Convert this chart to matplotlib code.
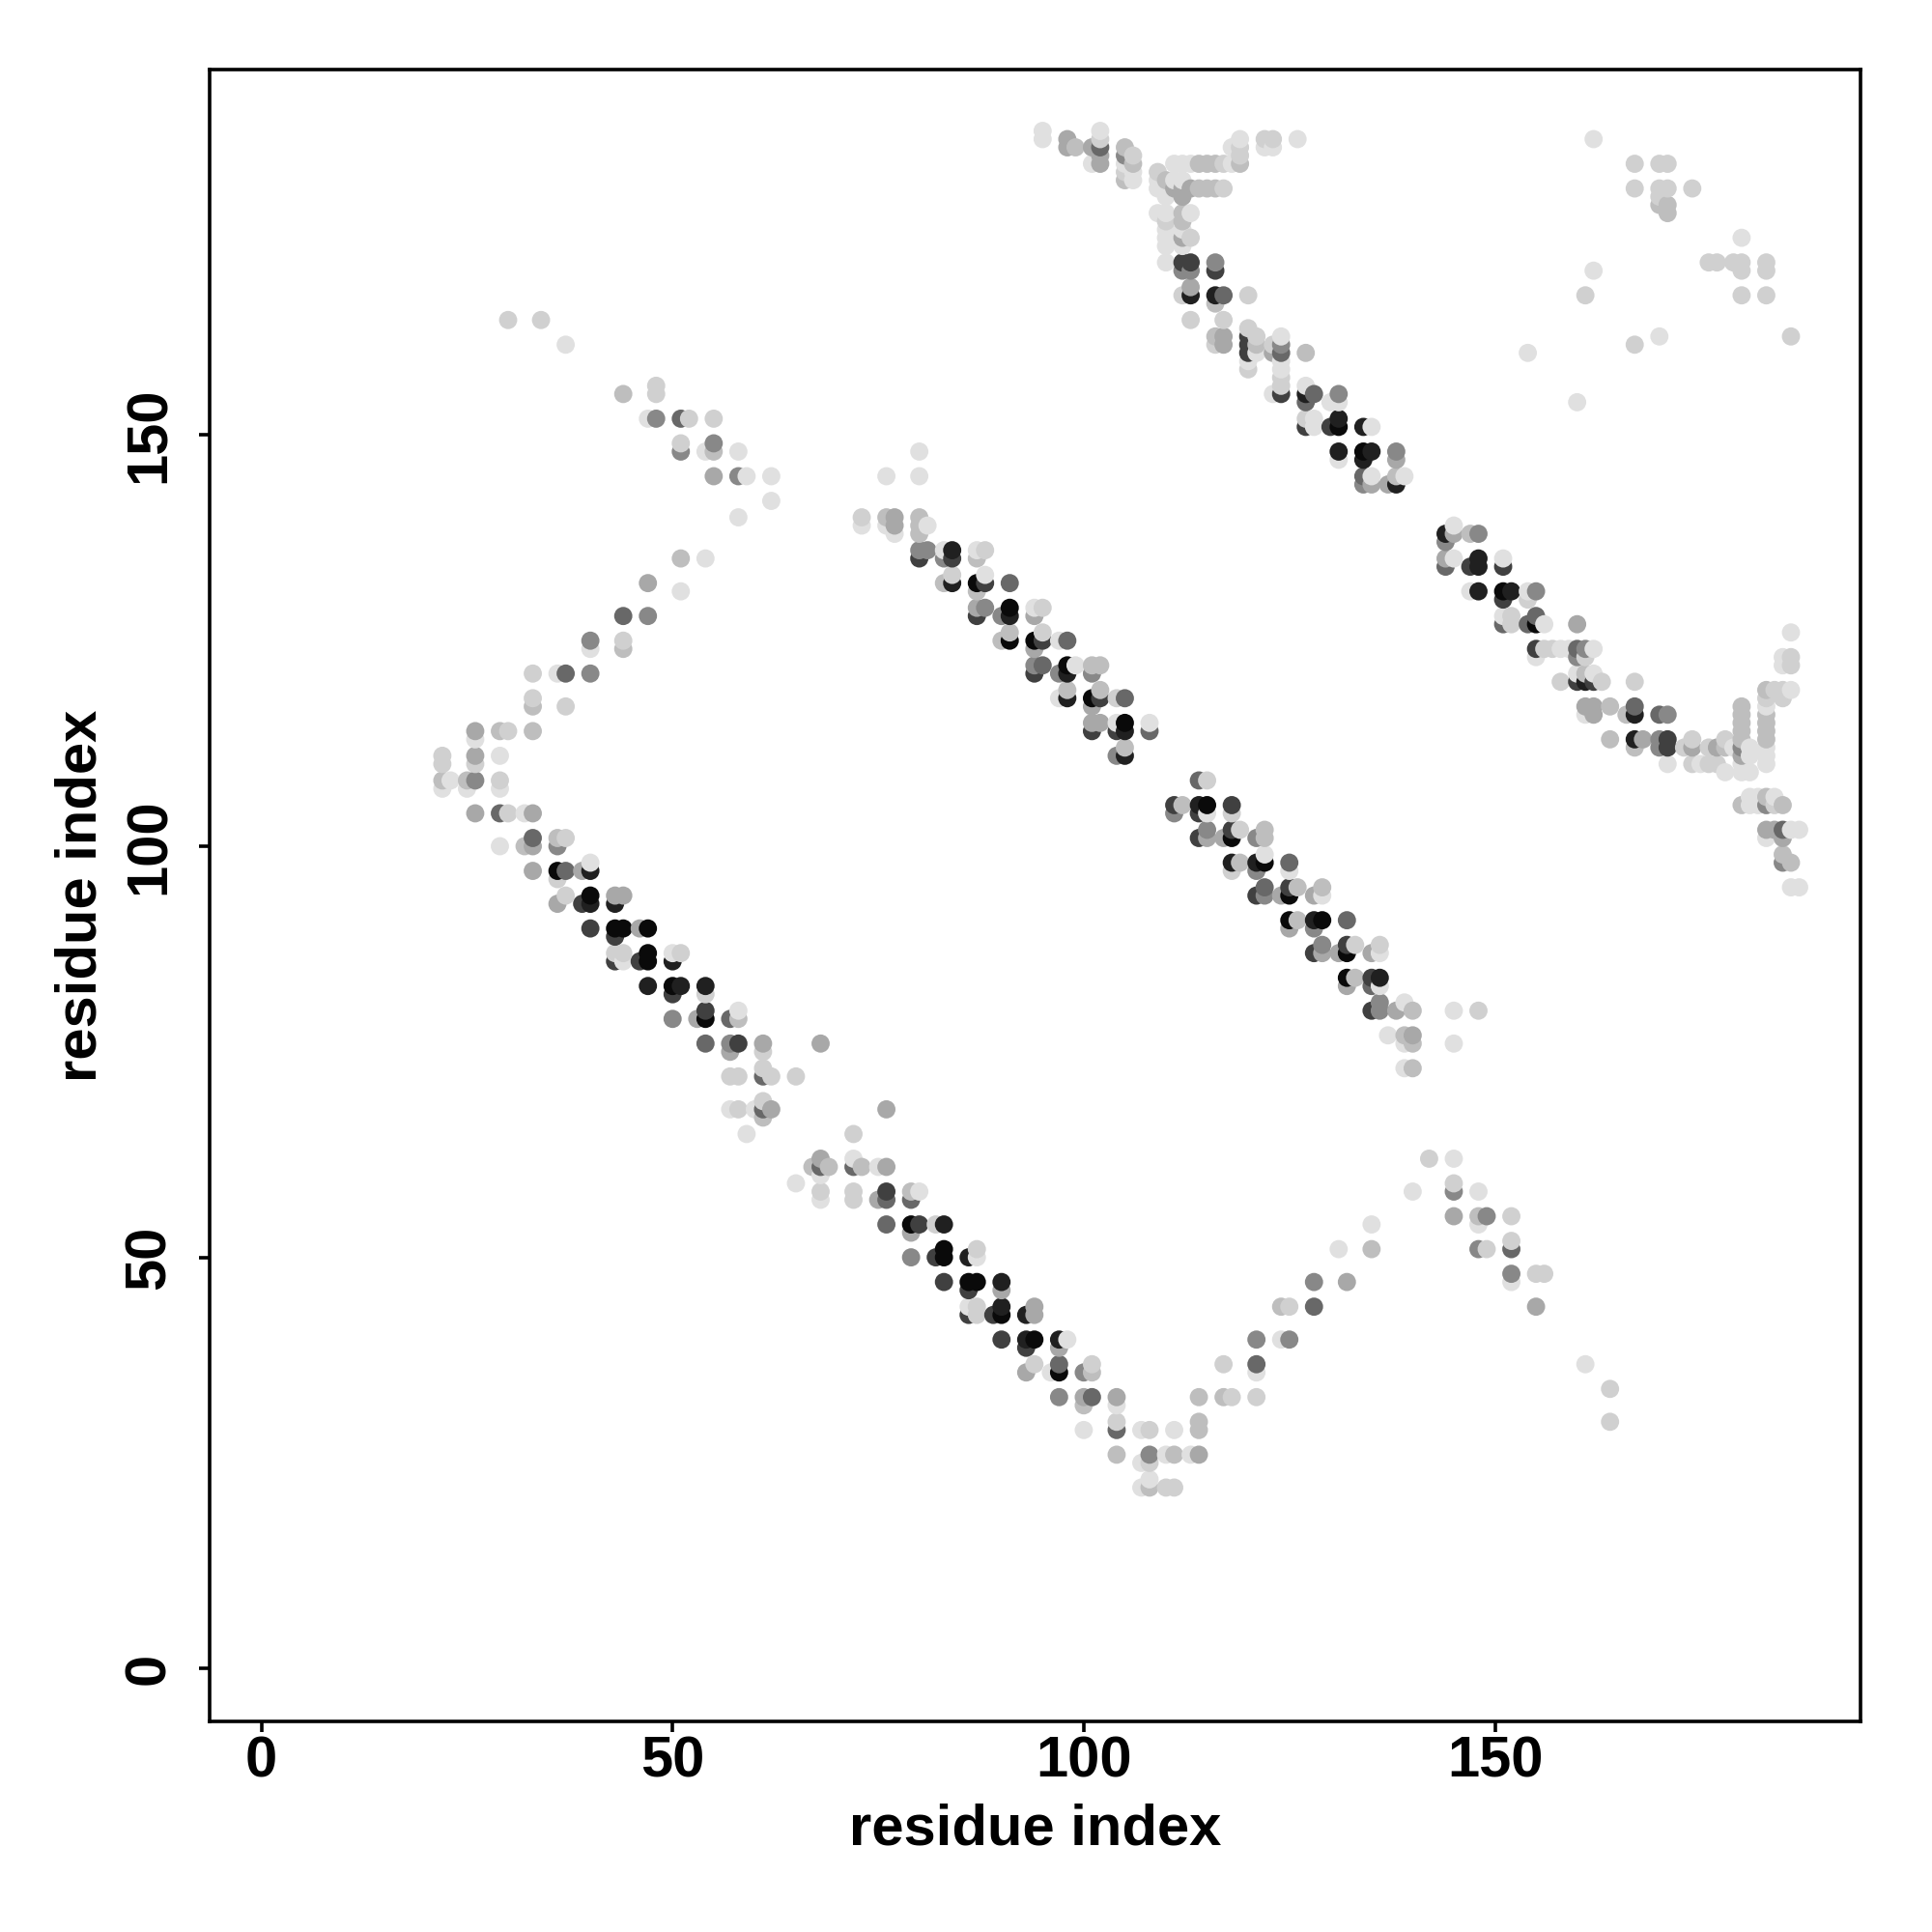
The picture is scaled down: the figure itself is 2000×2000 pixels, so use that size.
"""Residue contact map, grey dots darker for stronger contacts. Writes out.png."""
import matplotlib

matplotlib.use("Agg")
import matplotlib.pyplot as plt
import numpy as np

# grey levels of the dots, light to dark
A, B, C, D, E, F, G, H, I = 224, 208, 190, 168, 136, 104, 64, 32, 10

# (x residue, y residue, grey)
left_top = [
    (30,164,B),(34,164,B),(37,161,A),(44,155,C),(48,156,B),(48,155,B),
    (47,152,A),(48,152,E),(51,152,F),(52,152,B),(55,152,B),
    (51,149,B),(51,148,E),(54,148,A),(55,149,E),(55,148,C),(58,148,A),
    (55,145,D),(58,145,E),(59,145,A),(62,145,A),(62,142,A),(58,140,A),
    (51,135,C),(54,135,A),(47,132,D),(51,131,A),(44,128,F),(47,128,E),
    (40,125,E),(40,124,A),(44,125,B),(44,124,C),
    (33,121,B),(36,121,A),(37,121,F),(40,121,E),(33,118,B),(33,117,C),(37,117,B),
    (26,114,D),(26,113,A),(29,114,C),(30,114,B),(33,114,C),
    (22,111,B),(22,110,B),(26,111,D),(26,110,B),(29,111,A),
    (22,108,C),(23,108,A),(25,108,C),(25,107,A),(22,107,A),(26,108,E),(29,108,B),(29,107,A),
    (26,104,D),(29,104,F),(30,104,B),(32,104,A),(33,104,D),
    (29,100,A),(32,100,C),(33,101,F),(33,100,D),(36,101,C),(37,101,B),(36,100,E),
]
left_band = [
    (33,97,D),(36,97,I),(37,97,F),(39,97,D),(40,97,H),(40,98,A),(36,96,B),
    (37,94,B),(40,94,I),(43,94,D),(44,94,D),(36,93,D),(39,93,G),(40,93,H),(43,93,H),
    (40,90,G),(43,90,I),(44,90,I),(46,90,D),(47,90,I),(43,89,G),
    (43,87,B),(44,87,B),(47,87,I),(50,87,A),(51,87,B),
    (43,86,G),(44,86,A),(46,86,G),(47,86,I),(50,86,H),
    (47,83,H),(50,83,I),(51,83,H),(54,83,H),(50,82,G),(54,82,B),
    (54,80,G),(58,80,A),(50,79,E),(53,79,D),(54,79,I),(57,79,F),(58,79,C),
    (54,76,F),(57,76,E),(58,76,G),(61,76,D),(68,76,D),(57,75,D),(61,75,B),
    (57,72,B),(58,72,B),(61,73,B),(61,72,F),(62,72,B),(65,72,B),
    (57,68,A),(58,68,B),(60,68,A),(61,69,B),(61,68,F),(62,68,D),(61,67,C),(76,68,D),
    (59,65,A),(72,65,B),
]
lower_band = [
    (68,62,D),(72,62,A),(67,61,C),(68,61,F),(69,61,C),(72,61,F),(73,61,C),(75,61,A),(76,61,D),
    (68,60,A),(65,59,A),(68,58,B),(72,58,B),(76,58,G),(79,58,C),(80,58,A),
    (68,57,A),(72,57,B),(75,57,D),(76,57,F),(79,57,F),
    (76,54,F),(79,54,I),(80,54,G),(82,54,B),(83,54,H),(79,53,D),
    (83,51,I),(83,50,I),(82,50,G),(79,50,E),(86,50,H),(87,51,B),(87,50,A),
    (83,47,G),(86,47,I),(87,47,I),(90,47,H),(86,46,G),(90,46,D),
    (86,44,A),(87,44,B),(90,44,H),(94,44,D),(86,43,G),(87,43,B),(89,43,G),(90,43,I),(93,43,H),(94,43,D),
    (90,40,G),(93,40,H),(94,40,I),(97,40,H),(98,40,A),(93,39,G),(97,39,D),
    (94,37,B),(97,37,F),(93,36,D),(96,36,A),(97,36,I),(100,36,E),(101,37,B),(101,36,C),(117,37,B),
    (97,33,E),(100,33,D),(101,33,F),(104,33,D),(114,33,C),(117,33,C),(118,33,B),(100,32,C),(104,32,A),
    (104,30,B),(114,30,C),(100,29,A),(104,29,F),(107,29,A),(108,29,B),(111,29,A),(114,29,C),
    (104,26,C),(108,26,E),(110,26,A),(111,26,C),(113,26,A),(114,26,D),(107,25,A),(108,25,B),
    (108,23,A),(107,22,A),(108,22,C),(110,22,B),(111,22,B),
]
lower_right = [
    (142,62,B),(145,62,A),(145,59,B),(145,58,E),(148,58,A),(140,58,A),
    (145,55,D),(148,55,C),(149,55,E),(152,55,B),(148,54,A),(135,54,A),
    (131,51,A),(135,51,C),(148,51,E),(149,51,B),(152,52,B),(152,51,F),
    (128,47,E),(132,47,D),(152,48,E),(152,47,A),(155,48,B),(156,48,B),
    (124,44,C),(125,44,B),(128,44,F),(155,44,D),(121,40,E),(124,40,A),(125,40,E),
    (121,37,F),(121,36,A),(161,37,A),(164,34,B),(164,30,B),(121,33,B),
]
middle_upper = [
    (76,145,A),(80,148,A),(80,145,A),
    (73,140,B),(73,139,A),(76,140,C),(76,139,A),(77,140,D),(77,139,D),(77,138,A),
    (80,140,C),(80,139,C),(80,138,C),(81,139,A),
    (80,136,E),(81,136,E),(83,135,E),(83,136,A),(84,136,H),(84,135,G),(80,135,G),
    (87,136,A),(87,135,C),(88,136,B),
    (83,132,C),(84,133,B),(84,132,H),(87,132,I),(88,133,A),(88,132,G),(87,131,C),(91,132,F),
    (87,129,D),(87,128,G),(88,129,E),(90,128,E),(91,129,I),(91,128,H),(94,129,A),(94,128,D),(95,129,B),
    (90,125,C),(91,126,C),(91,125,I),(94,125,I),(95,126,B),(95,125,G),(94,124,D),(97,125,A),(98,125,F),
    (94,122,E),(94,121,G),(95,122,F),(97,121,E),(98,122,I),(98,121,H),(99,122,A),(101,122,C),(101,121,E),(102,122,C),
    (97,118,A),(98,119,C),(98,118,H),(101,118,I),(102,119,C),(102,118,G),(101,117,D),(104,118,B),(105,118,F),
    (101,115,D),(101,114,G),(102,115,D),(104,114,G),(104,115,A),(105,115,I),(105,114,H),(108,115,A),(108,114,F),
    (104,111,E),(105,112,C),(105,111,H),
]
middle_lower = [
    (114,108,F),(115,108,B),(111,105,G),(112,105,C),(111,104,E),(114,105,H),(115,105,I),(114,104,G),(115,104,A),
    (118,105,G),(118,104,B),
    (114,101,G),(115,102,E),(115,101,D),(117,101,D),(118,102,G),(118,101,I),(119,102,B),(121,101,E),(122,102,C),(122,101,C),
    (118,98,H),(119,98,C),(118,97,B),(121,98,H),(122,99,A),(122,98,I),(121,97,E),(125,98,F),(125,97,A),
    (121,94,G),(122,95,F),(122,94,E),(124,94,D),(125,95,G),(125,94,I),(126,95,C),(128,94,D),(129,95,C),(129,94,A),
    (125,91,I),(126,91,C),(125,90,D),(128,91,H),(129,91,I),(128,90,E),(132,91,F),
    (128,87,G),(129,88,E),(129,87,D),(131,87,D),(132,88,G),(132,87,I),(133,88,B),(135,87,D),(136,88,B),(136,87,A),
    (132,84,I),(133,84,C),(132,83,D),(135,84,G),(136,84,H),(135,83,F),(136,83,A),
    (135,80,G),(136,81,E),(136,80,E),(138,80,D),(139,81,A),(140,80,C),
    (137,77,A),(139,77,C),(140,77,D),(139,76,A),(140,76,C),(139,73,A),(140,73,C),
    (145,80,A),(148,80,B),(145,76,A),
]
right_band = [
    (144,138,H),(144,137,E),(145,139,A),(145,138,D),(147,138,C),(148,138,E),
    (144,135,D),(144,134,F),(145,135,A),(147,134,G),(148,135,H),(148,134,H),(151,135,A),(151,134,G),
    (147,131,A),(148,131,H),(151,131,I),(151,130,G),(152,131,H),(154,131,A),(155,131,E),(154,130,B),
    (151,128,A),(152,128,B),(151,127,F),(152,127,B),(154,127,F),(155,128,F),(155,127,I),(156,127,A),(160,127,D),
    (155,124,G),(156,124,B),(157,124,B),(158,124,A),(159,124,A),(160,124,F),(161,124,E),(162,124,A),
    (155,123,A),(160,123,E),(161,123,B),
    (158,120,B),(160,121,A),(160,120,G),(161,120,H),(161,121,C),(162,120,G),(162,121,A),(163,120,B),(167,120,B),
    (161,117,D),(161,116,A),(162,117,D),(162,116,D),(164,117,C),(166,116,C),(167,117,F),(167,116,H),(170,116,F),(171,116,E),
    (164,113,C),(167,113,H),(167,112,C),(168,113,D),(170,113,E),(170,112,E),(171,113,G),(171,112,G),(171,110,A),
]
right_tail = [
    (173,112,B),(174,113,B),(174,112,D),(174,110,B),(175,110,A),(176,112,B),(176,110,B),
    (177,112,D),(177,110,B),(178,113,B),(178,112,C),(178,109,A),(179,112,A),
    (180,117,C),(180,116,C),(180,115,C),(180,114,C),(180,113,C),(180,112,E),(180,111,D),(180,110,A),(180,109,A),
    (181,112,A),(181,111,A),(181,109,A),
    (183,119,C),(183,118,B),(183,117,A),(183,116,C),(183,115,C),(183,114,C),(183,113,C),(183,112,A),(183,111,A),(183,110,A),
    (184,119,B),(185,119,B),(185,118,B),(186,119,A),(186,122,B),(186,123,B),(185,123,A),(185,122,A),(186,126,A),
    (180,105,C),(181,106,A),(181,105,A),(182,105,A),(182,106,A),(183,106,C),(183,105,E),(184,106,A),(184,105,B),(185,105,C),
    (183,102,D),(184,102,D),(183,101,A),(185,102,F),(185,101,D),(186,102,A),(187,102,A),
    (185,99,C),(185,98,E),(186,98,C),(186,95,A),(187,95,A),
]
top_band = [
    (95,187,A),(95,186,A),(98,186,D),(98,185,D),(99,185,C),(101,185,D),(101,183,A),
    (102,187,A),(102,186,B),(102,185,F),(102,184,D),(102,183,D),
    (105,185,C),(105,184,E),(105,183,A),(105,182,B),(105,181,C),(106,184,B),(106,183,C),(106,182,A),(106,181,A),
    (109,182,B),(109,181,A),(109,180,A),(110,181,C),(110,180,A),(110,179,A),
    (111,183,A),(112,183,A),(113,183,A),(114,183,C),(115,183,C),(116,183,C),(117,183,B),(118,183,A),(119,183,C),
    (119,186,A),(119,185,B),(119,184,B),(118,185,A),
    (122,186,B),(123,186,B),(122,185,A),(123,185,A),(126,186,A),
    (113,180,D),(114,180,C),(115,180,C),(116,180,C),(117,180,B),
    (111,181,A),(112,181,A),(111,180,D),(112,180,D),(112,179,D),(112,177,C),(113,177,A),(112,176,C),(112,175,A),
    (112,174,D),(113,174,B),(112,173,A),(109,177,A),(110,177,A),(110,176,B),(110,175,A),(110,174,A),(110,173,A),
]
upper_band = [
    (110,171,A),(112,171,G),(113,171,G),(112,170,E),(113,170,E),(116,171,E),(116,170,G),
    (112,167,B),(113,168,D),(113,167,H),(116,167,H),(117,167,F),(116,166,C),(120,167,B),
    (113,164,B),(117,164,B),(116,162,C),(117,162,D),(116,161,B),(117,161,D),
    (120,163,B),(120,162,G),(120,161,G),(120,160,G),(120,159,A),(120,158,B),(121,162,B),(121,161,C),(121,160,A),
    (123,161,B),(123,160,D),(124,162,A),(124,161,E),(124,160,F),(124,159,A),(124,158,A),(124,157,B),(124,156,B),(124,155,G),(123,155,A),
    (127,160,C),(127,156,A),(127,155,H),(127,154,F),(128,155,F),(130,154,A),(131,155,E),(131,154,A),
    (127,152,B),(127,151,G),(128,152,A),(128,151,A),(130,151,G),(131,152,H),(131,151,I),(134,151,H),(135,151,A),
    (131,148,H),(131,147,A),(134,148,I),(135,148,H),(134,147,H),(138,148,E),(138,147,D),
    (134,145,F),(135,145,A),(135,144,D),(137,144,D),(138,145,C),(138,144,H),(139,145,A),(134,144,E),
]
upper_right = [
    (162,186,A),(167,183,B),(170,183,B),(171,183,B),(167,180,B),(170,180,B),(171,180,B),(174,180,B),
    (170,179,B),(170,178,C),(171,178,C),(171,177,C),
    (176,171,B),(177,171,B),(179,171,B),(180,171,B),(180,174,A),(183,171,B),(183,170,B),(180,170,B),
    (180,167,B),(183,167,B),(186,162,B),(170,162,A),(167,161,B),(162,170,A),(161,167,B),(154,160,A),(160,154,A),
]

x_ticks = [0, 50, 100, 150]
y_ticks = [0, 50, 100, 150]

plt.rcParams["font.family"] = ["Liberation Sans", "DejaVu Sans"]
plt.rcParams["font.weight"] = "bold"


def main():
    groups = [left_top, left_band, lower_band, lower_right, middle_upper, middle_lower,
              right_band, right_tail, top_band, upper_band, upper_right]
    pts = np.array([p for g in groups for p in g], dtype=float)
    # later residues sit on top, as in the original drawing order
    order = np.lexsort((pts[:, 1], pts[:, 0]))
    pts = pts[order]

    fig = plt.figure(figsize=(10, 10), dpi=200)
    ax = fig.add_axes([0.1085, 0.109, 0.8545, 0.855])
    ax.scatter(pts[:, 0], pts[:, 1], s=46, c=pts[:, 2] / 255, cmap="gray", vmin=0, vmax=1,
               linewidths=0, zorder=2)
    ax.set_xlim(-6.3, 194.46)
    ax.set_ylim(-6.44, 194.46)
    ax.set_xticks(x_ticks)
    ax.set_yticks(y_ticks)
    ax.tick_params(labelsize=21.5, length=4, width=1.3)
    ax.tick_params(axis="x", pad=1.2)
    ax.tick_params(axis="y", pad=8.4)
    for lab in ax.get_yticklabels():
        lab.set_rotation(90)
        lab.set_va("center")
    for s in ax.spines.values():
        s.set_linewidth(1.3)
    ax.set_xlabel("residue index", fontsize=21.5, fontweight="bold")
    ax.set_ylabel("residue index", fontsize=21.5, fontweight="bold")
    ax.xaxis.set_label_coords(0.5, -0.0497)
    ax.yaxis.set_label_coords(-0.0615, 0.5)
    fig.savefig("out.png", dpi=200)


if __name__ == "__main__":
    main()
